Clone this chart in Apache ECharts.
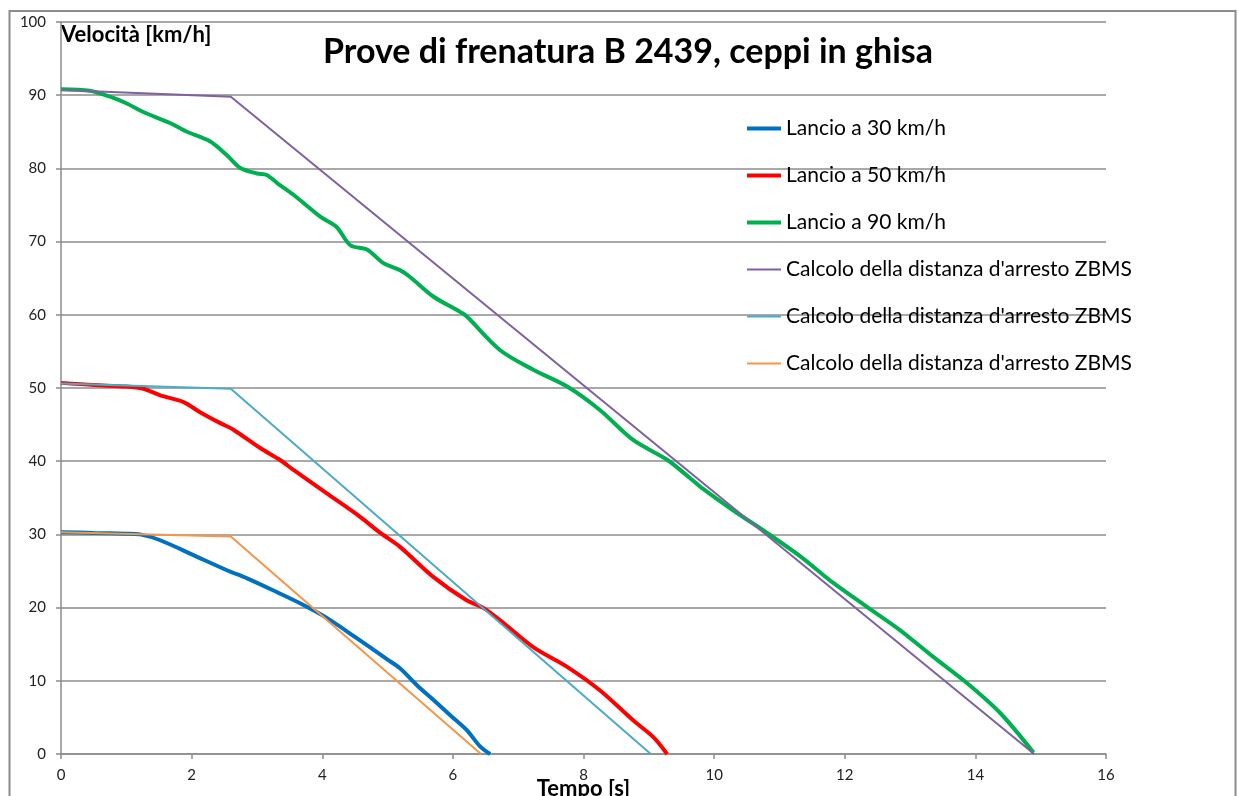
<!DOCTYPE html>
<html lang="it">
<head>
    <meta charset="utf-8" />
    <title>Prove di frenatura B 2439</title>
    <script type="text/javascript" src="https://cdn.jsdelivr.net/npm/echarts@6/dist/echarts.min.js"></script>
    <style type="text/css">
        html, body { margin: 0; padding: 0; background: #fff; }
    </style>
</head>
<body>
    <div id="main" style="width:1238px;height:796px;"></div>

    <script type="text/javascript">
        // misure (tempo [s], velocità [km/h])
        var t30 = [0, 0.5, 1.0, 1.21, 1.52, 2.02, 2.54, 2.85, 3.31, 3.66, 4.07, 4.5, 5.0, 5.19, 5.45, 5.70, 5.96, 6.21, 6.42, 6.57];
        var v30 = [30.3, 30.2, 30.1, 30.0, 29.2, 27.2, 25.1, 24.0, 22.1, 20.6, 18.6, 16.0, 12.9, 11.7, 9.4, 7.4, 5.3, 3.3, 1.0, 0];

        var t50 = [0, 0.5, 1.0, 1.26, 1.52, 1.87, 2.13, 2.44, 2.64, 3.05, 3.35, 3.56, 4.07, 4.58, 4.89, 5.19, 5.70, 6.21, 6.46, 6.72, 7.23, 7.75, 8.25, 8.76, 9.07, 9.28];
        var v50 = [50.7, 50.4, 50.2, 49.9, 49.0, 48.1, 46.7, 45.2, 44.3, 41.8, 40.2, 38.8, 35.6, 32.4, 30.2, 28.3, 24.2, 21.0, 20.0, 18.3, 14.6, 11.9, 8.7, 4.6, 2.3, 0];

        var t90 = [0, 0.44, 0.75, 1.0, 1.26, 1.67, 1.93, 2.28, 2.54, 2.74, 3.0, 3.15, 3.31, 3.56, 3.97, 4.22, 4.43, 4.69, 4.93, 5.19, 5.34, 5.70, 6.11, 6.21, 6.72, 7.23, 7.75, 8.25, 8.76, 9.28, 9.63, 9.79, 10.29, 10.81, 11.32, 11.82, 12.34, 12.85, 13.35, 13.87, 14.38, 14.89];
        var v90 = [90.8, 90.6, 89.8, 88.9, 87.7, 86.2, 85.0, 83.7, 81.8, 80.1, 79.3, 79.1, 78.0, 76.4, 73.4, 72.0, 69.5, 68.9, 67.1, 66.1, 65.2, 62.5, 60.4, 59.8, 55.2, 52.5, 50.2, 47.0, 42.9, 40.2, 37.7, 36.5, 33.3, 30.2, 27.0, 23.4, 20.1, 16.9, 13.3, 9.7, 5.6, 0.2];

        // calcolo ZBMS
        var tZ90 = [0, 2.6, 14.9];
        var vZ90 = [90.7, 89.8, 0];
        var tZ50 = [0, 2.6, 9.03];
        var vZ50 = [50.6, 49.9, 0];
        var tZ30 = [0, 2.6, 6.43];
        var vZ30 = [30.3, 29.7, 0];

        var zbms = "Calcolo della distanza d'arresto ZBMS";
        var font = "Lato, 'Liberation Sans', sans-serif";

        function pairs(t, v) {
            var out = [];
            for (var i = 0; i < t.length; i++) out.push([t[i], v[i]]);
            return out;
        }

        function lineSeries(name, color, width, data, smooth) {
            return {
                name: name,
                type: 'line',
                symbol: 'none',
                smooth: smooth,
                lineStyle: { color: color, width: width },
                itemStyle: { color: color },
                data: data
            };
        }

        function legendItem(name, width) {
            return { name: name, lineStyle: { width: width } };
        }

        var myChart = echarts.init(document.getElementById('main'));

        var option = {
            backgroundColor: '#fff',
            animation: false,
            title: {
                text: 'Prove di frenatura B 2439, ceppi in ghisa',
                left: 623,
                top: 30,
                textAlign: 'center',
                textStyle: { fontFamily: font, fontSize: 34, fontWeight: 'bold', color: '#000' }
            },
            legend: {
                orient: 'vertical',
                left: 740,
                top: 113,
                itemWidth: 34,
                itemHeight: 24,
                itemGap: 26,
                itemStyle: { opacity: 0 },
                textStyle: { fontFamily: font, fontSize: 21, color: '#000' },
                formatter: function (name) { return name.split('#')[0]; },
                data: [
                    legendItem('Lancio a 30 km/h', 4),
                    legendItem('Lancio a 50 km/h', 4),
                    legendItem('Lancio a 90 km/h', 4),
                    legendItem(zbms + '#1', 2),
                    legendItem(zbms + '#2', 2),
                    legendItem(zbms + '#3', 2)
                ]
            },
            grid: { left: 61, right: 132, top: 22, bottom: 42, containLabel: false, outerBoundsMode: 'none' },
            xAxis: {
                type: 'value',
                min: 0,
                max: 16,
                interval: 2,
                name: 'Tempo [s]',
                nameLocation: 'middle',
                nameGap: 24,
                nameMoveOverlap: false,
                nameTextStyle: { fontFamily: font, fontSize: 22, fontWeight: 'bold', color: '#000' },
                axisLine: { lineStyle: { color: '#8c8c8c', width: 1.5 } },
                axisTick: { show: true, length: 5, lineStyle: { color: '#8c8c8c', width: 1.5 } },
                axisLabel: { fontFamily: font, fontSize: 15, color: '#222', margin: 14 },
                splitLine: { show: false }
            },
            yAxis: {
                type: 'value',
                min: 0,
                max: 100,
                interval: 10,
                name: 'Velocità [km/h]',
                nameLocation: 'end',
                nameGap: -2,
                nameMoveOverlap: false,
                nameTextStyle: { fontFamily: font, fontSize: 22, fontWeight: 'bold', color: '#000', align: 'left', verticalAlign: 'top' },
                axisLine: { show: true, lineStyle: { color: '#8c8c8c', width: 1.5 } },
                axisTick: { show: true, length: 5, lineStyle: { color: '#8c8c8c', width: 1.5 } },
                axisLabel: { fontFamily: font, fontSize: 15, color: '#222', margin: 15 },
                splitLine: { show: true, lineStyle: { color: '#8c8c8c', width: 1.5 } }
            },
            graphic: [{
                type: 'rect',
                shape: { x: 9.5, y: 11, width: 1226, height: 800 },
                style: { fill: 'none', stroke: '#8c8c8c', lineWidth: 2 },
                silent: true
            }],
            series: [
                lineSeries('Lancio a 30 km/h', '#0070C0', 4, pairs(t30, v30), 0.3),
                lineSeries('Lancio a 50 km/h', '#FF0000', 4, pairs(t50, v50), 0.3),
                lineSeries('Lancio a 90 km/h', '#00B050', 4, pairs(t90, v90), 0.3),
                lineSeries(zbms + '#1', '#7F60A0', 2, pairs(tZ90, vZ90), false),
                lineSeries(zbms + '#2', '#4BACC6', 2, pairs(tZ50, vZ50), false),
                lineSeries(zbms + '#3', '#F79646', 2, pairs(tZ30, vZ30), false)
            ]
        };
        myChart.setOption(option, true);
    </script>
</body>
</html>
